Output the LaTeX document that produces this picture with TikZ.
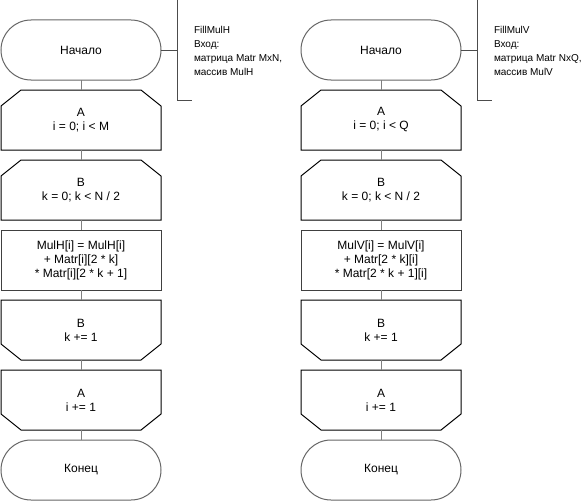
\documentclass[tikz,border=0pt]{standalone}
\usepackage{fontspec}
\setmainfont{Liberation Sans}
\usetikzlibrary{positioning}

% loop limit outlines: chamfer on top (begin) or bottom (end)
\newcommand{\chamtop}[1]{\draw[line width=1pt] ([xshift=20pt]#1.north west) -- ([xshift=-20pt]#1.north east)
  -- ([yshift=-16pt]#1.north east) -- (#1.south east) -- (#1.south west) -- ([yshift=-16pt]#1.north west) -- cycle;}
\newcommand{\chambot}[1]{\draw[line width=1pt] (#1.north west) -- (#1.north east) -- ([yshift=16pt]#1.south east)
  -- ([xshift=-20pt]#1.south east) -- ([xshift=20pt]#1.south west) -- ([yshift=16pt]#1.south west) -- cycle;}

\begin{document}
\begin{tikzpicture}[
  x=1pt, y=1pt,
  font=\fontsize{12}{14}\selectfont,
  node distance=10pt and 140pt,
  every node/.style={outer sep=0pt},
  terminal/.style={draw=black!60, line width=1pt, rounded corners=30pt,
                   minimum width=160pt, minimum height=60pt, align=center},
  loopblk/.style={minimum width=160pt, minimum height=60pt, inner sep=2pt, align=center},
  process/.style={draw=black!75, line width=1pt, minimum width=160pt,
                  minimum height=60pt, align=center},
  conn/.style={draw=black!50, line width=1pt},
  brace/.style={draw=black!70, line width=1pt},
  comment/.style={font=\fontsize{10}{14}\selectfont, align=left, anchor=west, inner sep=0pt}
]
  \useasboundingbox (0,0) rectangle (585,-503);

  % left column: FillMulH
  \node[terminal] (beginH) at (81,-50) {Начало};
  \node[loopblk, below=of beginH] (loopiH) {A\\i = 0; i < M};
  \node[loopblk, below=of loopiH] (loopkH) {B\\k = 0; k < N / 2};
  \node[process, below=of loopkH] (sumH) {MulH[i] = MulH[i]\\+ Matr[i][2 * k]\\* Matr[i][2 * k + 1]};
  \node[loopblk, below=of sumH] (nextkH) {B\\k += 1};
  \node[loopblk, below=of nextkH] (nextiH) {A\\i += 1};
  \node[terminal, below=of nextiH] (finishH) {Конец};

  % right column: FillMulV
  \node[terminal, right=of beginH] (beginV) {Начало};
  \node[loopblk, below=of beginV] (loopiV) {A\\i = 0; i < Q};
  \node[loopblk, below=of loopiV] (loopkV) {B\\k = 0; k < N / 2};
  \node[process, below=of loopkV] (sumV) {MulV[i] = MulV[i]\\+ Matr[2 * k][i]\\* Matr[2 * k + 1][i]};
  \node[loopblk, below=of sumV] (nextkV) {B\\k += 1};
  \node[loopblk, below=of nextkV] (nextiV) {A\\i += 1};
  \node[terminal, below=of nextiV] (finishV) {Конец};

  \foreach \col in {H,V} {
    \chamtop{loopi\col}
    \chamtop{loopk\col}
    \chambot{nextk\col}
    \chambot{nexti\col}
    \draw[conn] (begin\col) -- (loopi\col);
    \draw[conn] (loopi\col) -- (loopk\col);
    \draw[conn] (loopk\col) -- (sum\col);
    \draw[conn] (sum\col) -- (nextk\col);
    \draw[conn] (nextk\col) -- (nexti\col);
    \draw[conn] (nexti\col) -- (finish\col);
  }

  % comments
  \coordinate[right=16pt of beginH.east] (cmtH);
  \coordinate[right=16pt of beginV.east] (cmtV);
  \draw[brace] (beginH.east) -- (cmtH);
  \draw[brace] (beginV.east) -- (cmtV);
  \draw[brace] ([shift={(15,50)}]cmtH) -- ++(-15,0) -- ++(0,-100) -- ++(15,0);
  \draw[brace] ([shift={(15,50)}]cmtV) -- ++(-15,0) -- ++(0,-100) -- ++(15,0);
  \node[comment] (textH) at ([shift={(17,-1)}]cmtH)
       {FillMulH\\Вход:\\матрица Matr MxN,\\массив MulH};
  \node[comment] (textV) at ([shift={(17,-1)}]cmtV)
       {FillMulV\\Вход:\\матрица Matr NxQ,\\массив MulV};
\end{tikzpicture}
\end{document}
